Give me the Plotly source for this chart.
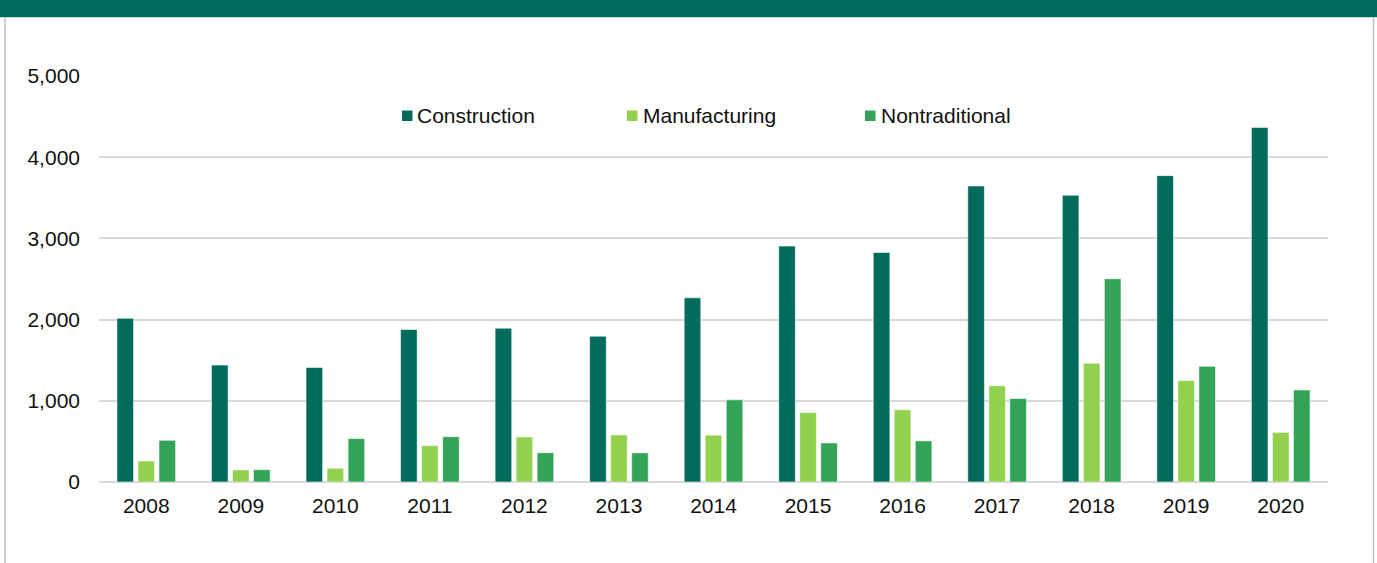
import plotly.graph_objects as go

years = ["2008", "2009", "2010", "2011", "2012", "2013", "2014",
         "2015", "2016", "2017", "2018", "2019", "2020"]
construction = [2016, 1440, 1411, 1878, 1894, 1795, 2268, 2905, 2827, 3646, 3531, 3773, 4365]
manufacturing = [259, 148, 169, 448, 555, 580, 577, 856, 889, 1185, 1462, 1249, 611]
nontraditional = [514, 152, 535, 558, 361, 358, 1012, 481, 506, 1028, 2503, 1425, 1134]
y_ticks = [0, 1000, 2000, 3000, 4000, 5000]

series_names = ["Construction", "Manufacturing", "Nontraditional"]
series_values = [construction, manufacturing, nontraditional]
series_colors = ["#026B5C", "#92D050", "#33A457"]

W, H = 1377, 563
ML, MR, MT, MB = 99, 49, 76, 81
PW, PH = W - ML - MR, H - MT - MB
FONT = "Liberation Sans, Arial, sans-serif"
TXT = "#111111"


def px_x(x):
    return (x - ML) / PW


def px_y(y):
    return (H - MB - y) / PH


fig = go.Figure()
for name, vals, col in zip(series_names, series_values, series_colors):
    fig.add_trace(go.Bar(
        x=years, y=vals, name=name, showlegend=False,
        marker=dict(color=col, line=dict(color="rgba(255,255,255,0.55)", width=1)),
    ))

shapes = [
    # top band
    dict(type="rect", xref="paper", yref="paper", x0=px_x(-5), x1=px_x(W + 5),
         y0=px_y(17.3), y1=px_y(-5), fillcolor="#006A5C", line=dict(width=0), layer="above"),
    # side borders
    dict(type="line", xref="paper", yref="paper", x0=px_x(5), x1=px_x(5),
         y0=px_y(17.3), y1=px_y(H + 5), line=dict(color="#BFBFBF", width=1.5)),
    dict(type="line", xref="paper", yref="paper", x0=px_x(1373.5), x1=px_x(1373.5),
         y0=px_y(17.3), y1=px_y(H + 5), line=dict(color="#BFBFBF", width=1.5)),
]
annotations = []
leg_sq_x = [402, 627, 865]
leg_tx_x = [416, 641.5, 880]
for name, col, sx, tx in zip(series_names, series_colors, leg_sq_x, leg_tx_x):
    shapes.append(dict(type="rect", xref="paper", yref="paper",
                       x0=px_x(sx), x1=px_x(sx + 10.5), y0=px_y(121), y1=px_y(110.5),
                       fillcolor=col, line=dict(width=0)))
    annotations.append(dict(text=name, xref="paper", yref="paper",
                            x=px_x(tx - 1), y=px_y(115), xanchor="left", yanchor="middle",
                            showarrow=False, font=dict(family=FONT, size=21, color=TXT)))

fig.update_layout(
    width=W, height=H,
    margin=dict(l=ML, r=MR, t=MT, b=MB, pad=0),
    paper_bgcolor="white", plot_bgcolor="white",
    barmode="group", bargap=0.333, bargroupgap=0.21,
    font=dict(family=FONT, size=21, color=TXT),
    shapes=shapes, annotations=annotations,
    xaxis=dict(showgrid=False, showline=False, zeroline=False, ticks="",
               tickfont=dict(family=FONT, size=21, color=TXT),
               ticklabelstandoff=9),
    yaxis=dict(range=[0, 5000], tickvals=y_ticks, tickformat=",",
               showgrid=True, gridcolor="#D9D9D9", gridwidth=1.5,
               zeroline=True, zerolinecolor="#D9D9D9", zerolinewidth=1.5,
               showline=False, ticks="",
               tickfont=dict(family=FONT, size=21, color=TXT),
               ticklabelstandoff=18),
)

fig.write_html(
    "out.html",
    config={"displayModeBar": False},
    post_script="document.body.style.margin='0';document.body.style.overflow='hidden';",
)
